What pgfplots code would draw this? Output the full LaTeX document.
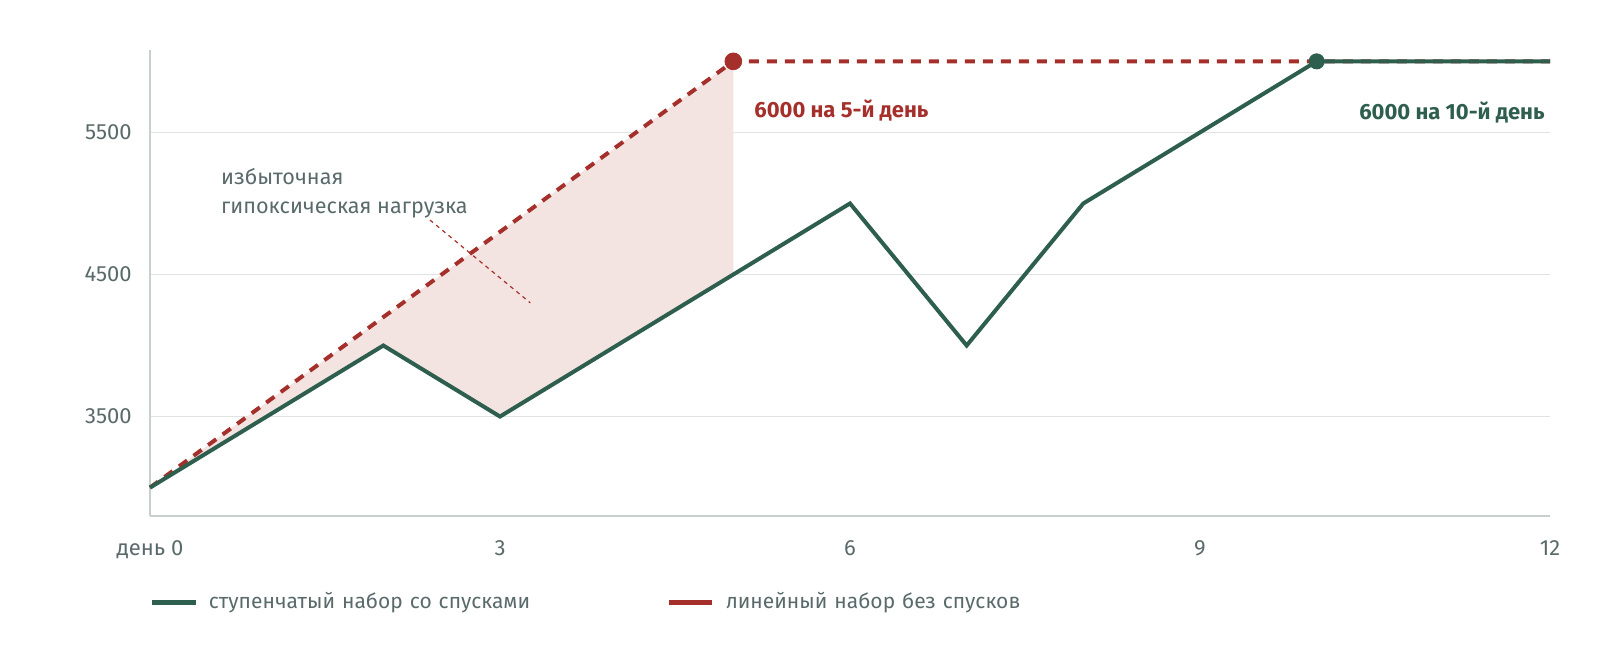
\documentclass[border=0pt]{standalone}
\usepackage{pgfplots}
\pgfplotsset{compat=1.18}
\usepackage{fontspec}
\setmainfont{Fira Sans}
\usetikzlibrary{calc}
\definecolor{cgreen}{HTML}{2E5E4E}
\definecolor{cred}{HTML}{A5302B}
\definecolor{cfill}{HTML}{F3E4E2}
\definecolor{ctext}{HTML}{5A6A6A}
\definecolor{caxis}{HTML}{C8D0CF}
\definecolor{cgrid}{HTML}{DFE4E3}
\newcommand{\lblfont}{\fontsize{11}{13}\selectfont}
\newcommand{\legfont}{\fontsize{10.5}{13}\selectfont}
\newcommand{\annfont}{\fontsize{10.8}{13}\selectfont}
\begin{document}
\begin{tikzpicture}
\begin{axis}[
  scale only axis, width=700pt, height=233pt,
  xmin=0, xmax=12, ymin=2800, ymax=6080,
  axis x line=bottom, axis y line=left,
  axis line style={-, draw=caxis, line width=0.8pt},
  xtick={0,3,6,9,12}, xticklabels={день 0,3,6,9,12},
  ytick={3500,4500,5500}, yticklabels={3500,4500,5500},
  major tick length=0pt,
  ymajorgrids, grid style={draw=cgrid, line width=0.8pt},
  tick label style={font=\lblfont, text=ctext},
  xticklabel style={anchor=north, inner sep=0pt, yshift=-12pt},
  yticklabel style={anchor=east, inner sep=0pt, xshift=-9pt},
  /pgf/number format/assume math mode=true,
  clip=false,
  legend columns=2,
  legend cell align=left,
  legend style={draw=none, fill=none, at={(axis description cs:0,0)}, anchor=west, yshift=-43pt,
     inner sep=0pt, outer sep=0pt,
     nodes={inner sep=0pt, text width=229pt, align=left, font=\legfont, text=ctext}},
  legend image code/.code={\draw[#1, solid, line width=2.5pt] (0pt,0pt) -- (21.5pt,0pt);\path (28pt,0pt);},
]
\coordinate (O) at (rel axis cs:0,0);
% excess area
\addplot[fill=cfill, draw=none, forget plot] coordinates {(0,3000) (5,6000) (5,4500) (3,3500) (2,4000) (0,3000)};
% linear
\addplot[cred, line width=2pt, dash pattern=on 5pt off 4pt, forget plot] coordinates {(0,3000) (5,6000) (12,6000)};
% stepwise
\addplot[cgreen, line width=2pt, forget plot] coordinates {(0,3000) (2,4000) (3,3500) (5,4500) (6,5000) (7,4000) (8,5000) (10,6000) (12,6000)};
\addplot[only marks, mark=*, mark size=4.2pt, cred, forget plot] coordinates {(5,6000)};
\addplot[only marks, mark=*, mark size=3.8pt, cgreen, forget plot] coordinates {(10,6000)};
\addlegendimage{cgreen}
\addlegendentry{ступенчатый набор со спусками}
\addlegendimage{cred}
\addlegendentry{линейный набор без спусков}
\draw[cred, line width=0.6pt, dash pattern=on 2pt off 2pt] (axis cs:2.40,4883) -- (axis cs:3.26,4300);
\node[anchor=base west, inner sep=0pt, font=\annfont, text=ctext] at (axis cs:0.606,5136) {избыточная};
\node[anchor=base west, inner sep=0pt, font=\annfont, text=ctext] at (axis cs:0.606,4932) {гипоксическая нагрузка};
\node[anchor=base west, inner sep=0pt, font=\bfseries\lblfont, text=cred] at (axis cs:5.177,5605) {6000 на 5-й день};
\node[anchor=base east, inner sep=0pt, font=\bfseries\lblfont, text=cgreen] at (axis cs:11.957,5591) {6000 на 10-й день};
\end{axis}
\pgfresetboundingbox
\path[use as bounding box] ($(O)+(-75pt,-67pt)$) rectangle ($(O)+(725pt,258pt)$);
\end{tikzpicture}
\end{document}
